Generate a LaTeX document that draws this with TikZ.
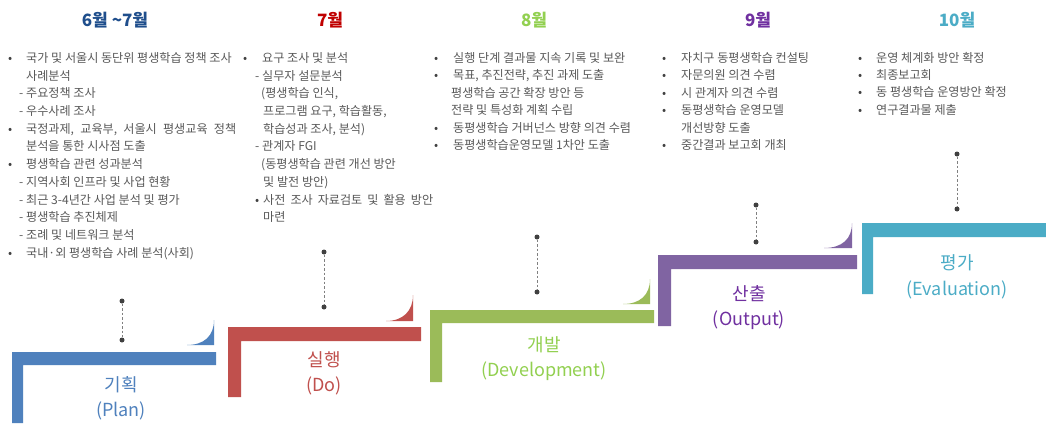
\documentclass[tikz,border=0pt]{standalone}
\usepackage{fontspec}
\setmainfont{Noto Sans CJK KR}
\definecolor{hblue}{RGB}{31,78,140}
\definecolor{hred}{RGB}{192,0,0}
\definecolor{hgreen}{RGB}{146,208,80}
\definecolor{hpurple}{RGB}{112,48,160}
\definecolor{hteal}{RGB}{75,172,198}
\definecolor{sblue}{RGB}{79,129,189}
\definecolor{sred}{RGB}{192,80,77}
\definecolor{sgreen}{RGB}{155,187,89}
\definecolor{spurple}{RGB}{128,100,162}
\definecolor{steal}{RGB}{75,172,198}
\definecolor{bodygray}{RGB}{89,89,89}
\definecolor{dotgray}{RGB}{64,64,64}
\newcommand{\bul}[2]{\makebox[#1pt][l]{\textcolor{dotgray}{•}}#2}
\newcommand{\dsh}[2]{\makebox[#1pt][l]{-}#2}
\tikzset{
  body/.style={anchor=base west, inner sep=0pt, text=bodygray, font=\fontsize{12.1}{14}\selectfont},
  head/.style={inner sep=0pt, font=\fontsize{17}{20}\selectfont\bfseries},
  lab/.style={inner sep=0pt, font=\fontsize{18}{22}\selectfont},
  dotnode/.style={circle, fill=dotgray, inner sep=0pt, minimum size=5pt},
  conn/.style={draw=gray, dashed, dash pattern=on 2.5pt off 2pt, line width=0.7pt},
}
\newcommand{\tl}[4]{\node[body] (#1) at (#2,#3+4.4) {#4};}
\begin{document}
\begin{tikzpicture}[x=1pt,y=-1pt]
\useasboundingbox (0,0) rectangle (1046,425);
\fill[white] (0,0) rectangle (1046,425);

% ---- step shapes ----
\fill[sblue] (12,352) -- (216,352) -- (216,365) -- (23,365) -- (23,423) -- (12,423) -- cycle;
\fill[sblue] (187,345) .. controls (204,345) and (214,336) .. (214,320) -- (214,345) -- cycle;
\fill[sred] (228,327) -- (421,327) -- (421,341) -- (241,341) -- (241,397) -- (228,397) -- cycle;
\fill[sred] (386,321) .. controls (403,321) and (413,311) .. (413,295) -- (413,321) -- cycle;
\fill[sgreen] (430,310) -- (654,310) -- (654,323) -- (442,323) -- (442,382) -- (430,382) -- cycle;
\fill[sgreen] (623,304) .. controls (640,304) and (650,295) .. (650,279) -- (650,304) -- cycle;
\fill[spurple] (658,255) -- (857,255) -- (857,269) -- (671,269) -- (671,326) -- (658,326) -- cycle;
\fill[spurple] (824,248) .. controls (842,248) and (852,239) .. (852,223) -- (852,248) -- cycle;
\fill[steal] (862,223) -- (1046,223) -- (1046,237) -- (873,237) -- (873,294) -- (862,294) -- cycle;

% ---- headers ----
\node[head, text=hblue] (h1) at (115,20) {6월 \textasciitilde 7월};
\node[head, text=hred] (h2) at (330,20) {7월};
\node[head, text=hgreen] (h3) at (534,20) {8월};
\node[head, text=hpurple] (h4) at (758,20) {9월};
\node[head, text=hteal] (h5) at (957,20) {10월};

% ---- stage labels ----
\node[lab, text=sblue] (l1a) at (121,385) {기획};
\node[lab, text=sblue] (l1b) at (121,411) {(Plan)};
\node[lab, text=sred] (l2a) at (324,360) {실행};
\node[lab, text=sred] (l2b) at (324,386) {(Do)};
\node[lab, text=hgreen] (l3a) at (544,345) {개발};
\node[lab, text=hgreen] (l3b) at (544,371) {(Development)};
\node[lab, text=hpurple] (l4a) at (749,294) {산출};
\node[lab, text=hpurple] (l4b) at (749,320) {(Output)};
\node[lab, text=hteal] (l5a) at (957,263) {평가};
\node[lab, text=hteal] (l5b) at (957,290) {(Evaluation)};

% ---- dots and dashed connectors ----
\node[dotnode] (d1a) at (122,301) {};
\node[dotnode] (d1b) at (122,340) {};
\node[dotnode] (d2a) at (324,252) {};
\node[dotnode] (d2b) at (324,307) {};
\node[dotnode] (d3a) at (537,237) {};
\node[dotnode] (d3b) at (537,292) {};
\node[dotnode] (d4a) at (756,205) {};
\node[dotnode] (d4b) at (756,242) {};
\node[dotnode] (d5a) at (957,154) {};
\node[dotnode] (d5b) at (957,209) {};
\draw[conn] (d1a) -- (d1b);
\draw[conn] (d2a) -- (d2b);
\draw[conn] (d3a) -- (d3b);
\draw[conn] (d4a) -- (d4b);
\draw[conn] (d5a) -- (d5b);

% ---- column 1 ----
\tl{a1}{8}{58}{\bul{18}{국가 및 서울시 동단위 평생학습 정책 조사}}
\tl{a2}{26}{75.7}{사례분석}
\tl{a3}{19}{93.4}{\dsh{7}{주요정책 조사}}
\tl{a4}{19}{111.1}{\dsh{7}{우수사례 조사}}
\tl{a5}{8}{128.8}{\bul{18}{\makebox[210pt][s]{국정과제,\hfill 교육부,\hfill 서울시\hfill 평생교육\hfill 정책}}}
\tl{a6}{26}{146.5}{분석을 통한 시사점 도출}
\tl{a7}{8}{164.2}{\bul{18}{평생학습 관련 성과분석}}
\tl{a8}{19}{181.9}{\dsh{7}{지역사회 인프라 및 사업 현황}}
\tl{a9}{19}{199.6}{\dsh{7}{최근 3-4년간 사업 분석 및 평가}}
\tl{a10}{19}{217.3}{\dsh{7}{평생학습 추진체제}}
\tl{a11}{19}{235}{\dsh{7}{조례 및 네트워크 분석}}
\tl{a12}{8}{252.7}{\bul{18}{국내·외 평생학습 사례 분석(사회)}}

% ---- column 2 ----
\tl{b1}{243}{58}{\bul{19}{요구 조사 및 분석}}
\tl{b2}{255}{75.7}{\dsh{7}{실무자 설문분석}}
\tl{b3}{261}{93.4}{(평생학습 인식,}
\tl{b4}{263}{111.1}{프로그램 요구, 학습활동,}
\tl{b5}{263}{128.8}{학습성과 조사, 분석)}
\tl{b6}{255}{146.5}{\dsh{7}{관계자 FGI}}
\tl{b7}{261}{164.2}{(동평생학습 관련 개선 방안}
\tl{b8}{263}{181.9}{및 발전 방안)}
\tl{b9}{255}{199.6}{\bul{8}{\makebox[170pt][s]{사전\hfill 조사\hfill 자료검토\hfill 및\hfill 활용\hfill 방안}}}
\tl{b10}{263}{217.3}{마련}

% ---- column 3 ----
\tl{c1}{434}{58}{\bul{19}{실행 단계 결과물 지속 기록 및 보완}}
\tl{c2}{434}{75.5}{\bul{19}{목표, 추진전략, 추진 과제 도출}}
\tl{c3}{451}{93}{평생학습 공간 확장 방안 등}
\tl{c4}{451}{110.5}{전략 및 특성화 계획 수립}
\tl{c5}{434}{128}{\bul{19}{동평생학습 거버넌스 방향 의견 수렴}}
\tl{c6}{434}{145.5}{\bul{19}{동평생학습운영모델 1차안 도출}}

% ---- column 4 ----
\tl{e1}{662}{58}{\bul{19}{자치구 동평생학습 컨설팅}}
\tl{e2}{662}{75.5}{\bul{19}{자문의원 의견 수렴}}
\tl{e3}{662}{93}{\bul{19}{시 관계자 의견 수렴}}
\tl{e4}{662}{110.5}{\bul{19}{동평생학습 운영모델}}
\tl{e5}{681}{128}{개선방향 도출}
\tl{e6}{662}{145.5}{\bul{19}{중간결과 보고회 개최}}

% ---- column 5 ----
\tl{f1}{858}{58}{\bul{18}{운영 체계화 방안 확정}}
\tl{f2}{858}{75.2}{\bul{18}{최종보고회}}
\tl{f3}{858}{92.4}{\bul{18}{동 평생학습 운영방안 확정}}
\tl{f4}{858}{109.6}{\bul{18}{연구결과물 제출}}
\end{tikzpicture}
\end{document}
